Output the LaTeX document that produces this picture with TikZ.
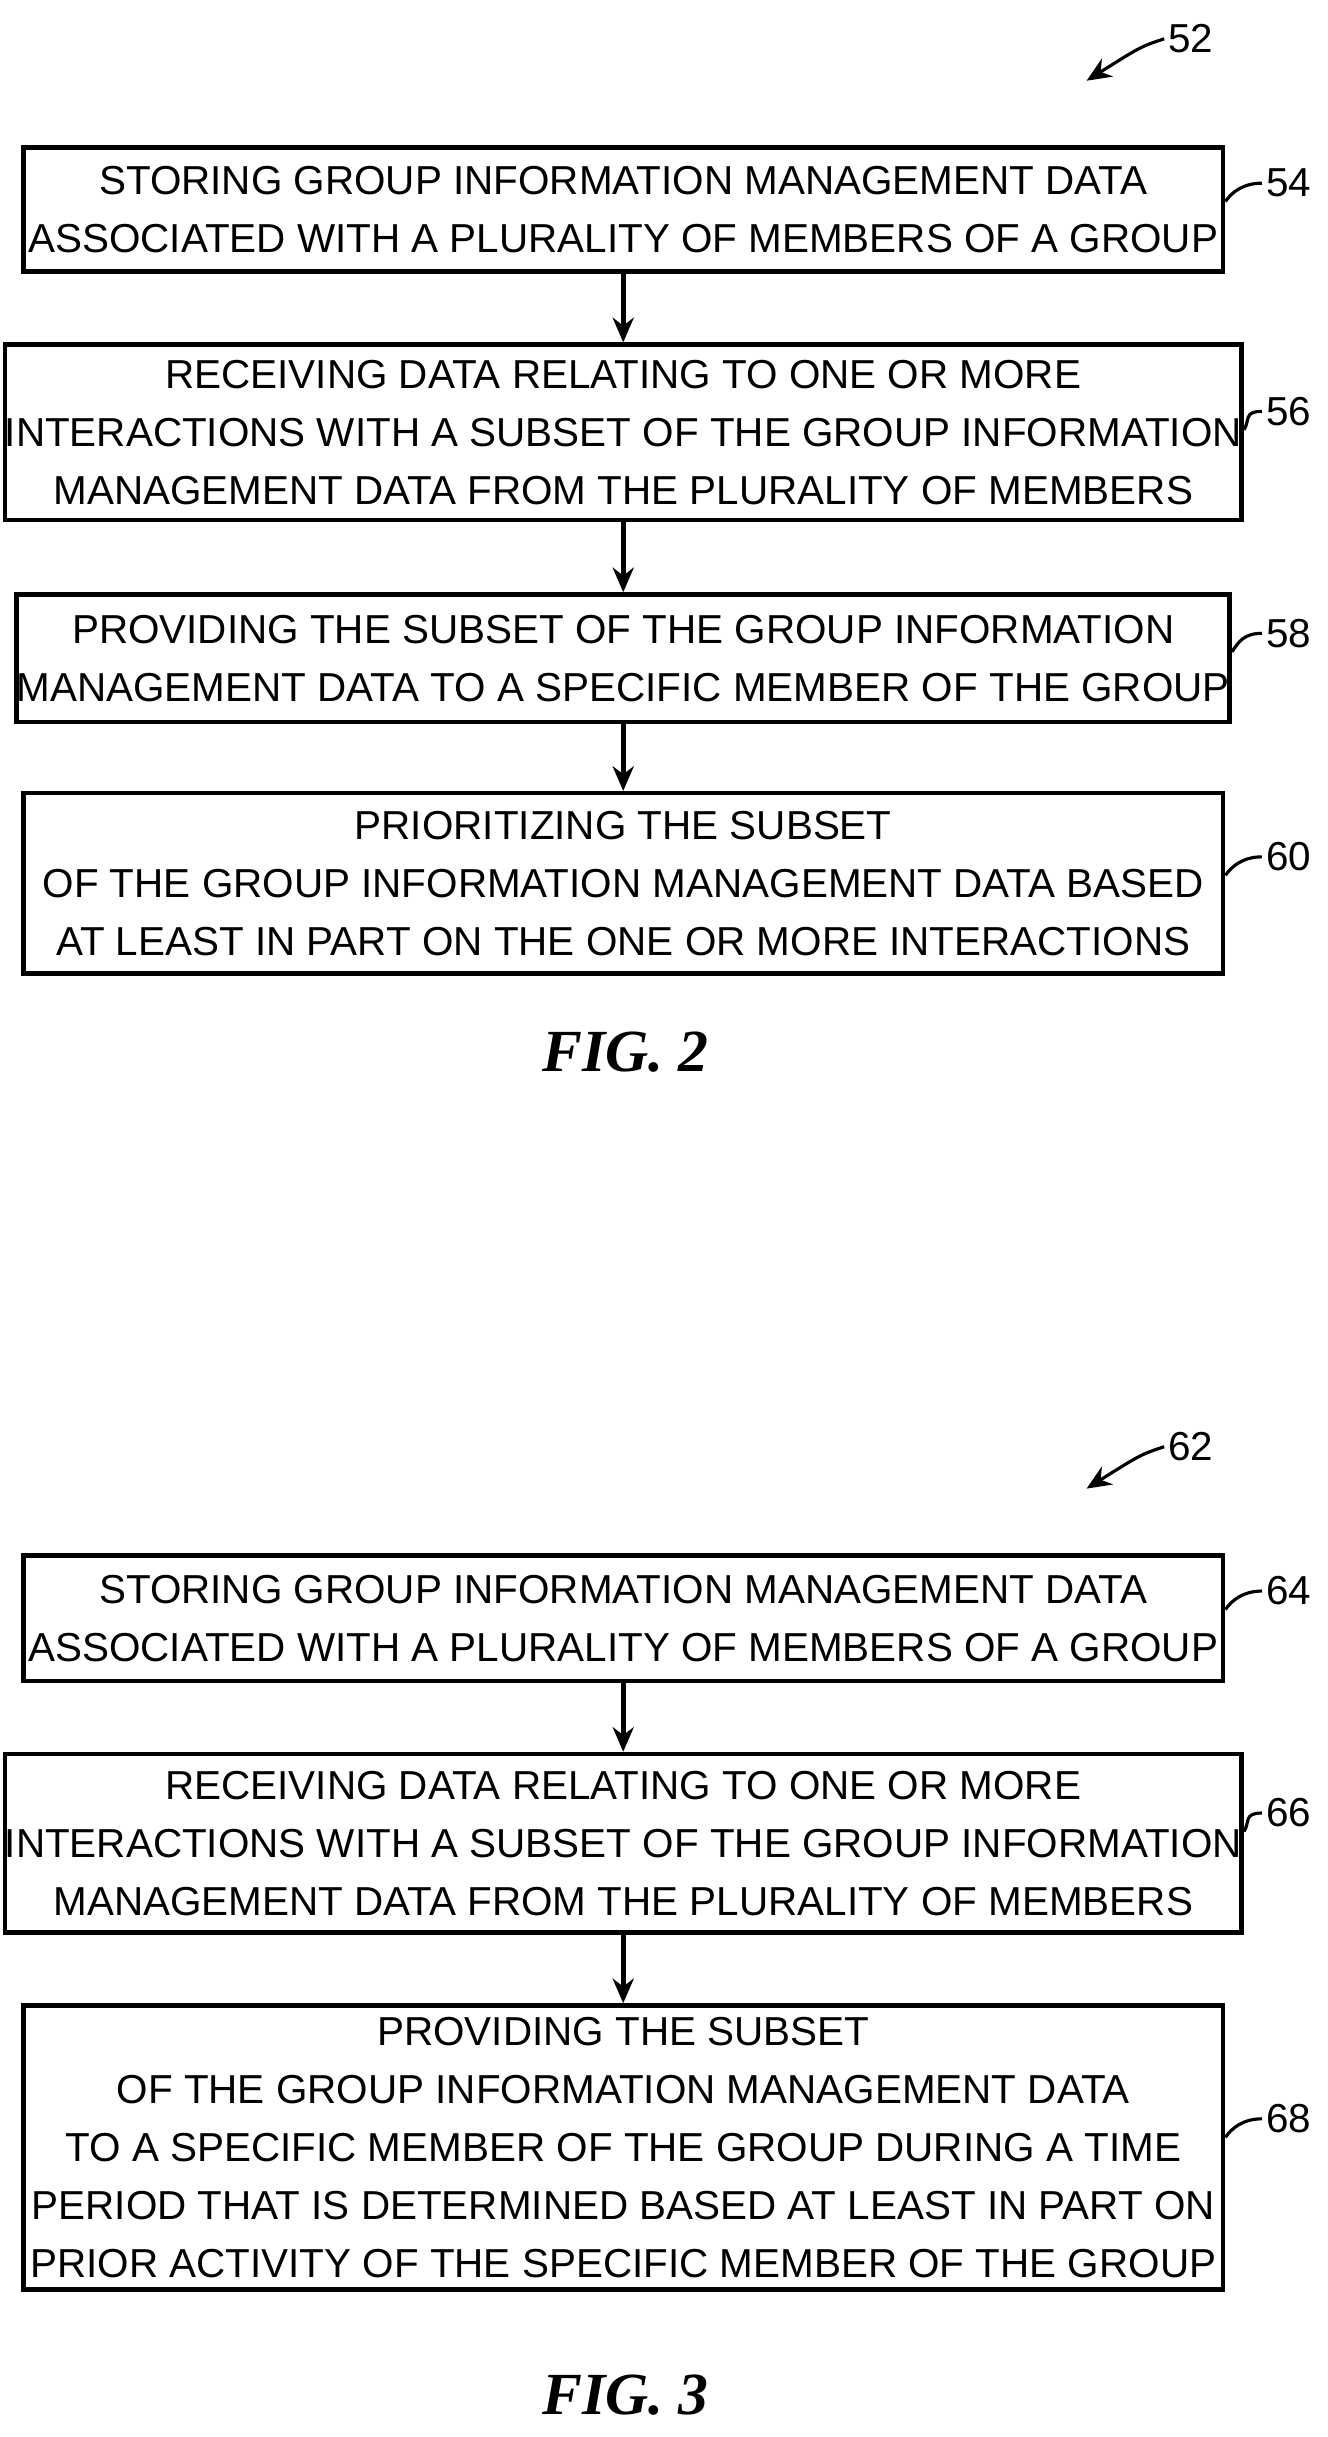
\documentclass[tikz,border=0pt]{standalone}
\usepackage{fontspec}
\setmainfont{Liberation Sans}
\newfontfamily\figfont{Liberation Serif}
\usetikzlibrary{arrows.meta,positioning}

\tikzset{
  procbox/.style={draw, line width=1.3pt, align=center, inner sep=0pt,
    minimum width=773*0.01552cm, font=\fontsize{11.5}{16.5}\selectfont},
  flow/.style={-{Stealth[length=7pt,width=6pt]}, line width=1.3pt},
  refnum/.style={font=\fontsize{11.5}{14}\selectfont, anchor=west, inner sep=1pt},
  lead/.style={line width=0.9pt},
  figlabel/.style={font=\figfont\itshape\bfseries\fontsize{17}{20}\selectfont}
}

\begin{document}
\begin{tikzpicture}[x=0.01552cm, y=-0.01552cm]
    \useasboundingbox (0,0) rectangle (855,1570);

    % FIG. 2
    \node[refnum] (n52) at (750,25) {52};
    \coordinate (a52) at (700,52);
    \draw[flow, line width=0.9pt] (n52.west) .. controls (735,30) .. (a52);

    \node[procbox, minimum height=80*0.01552cm] (s54) at (401.5,135) {STORING GROUP INFORMATION MANAGEMENT DATA\\ASSOCIATED WITH A PLURALITY OF MEMBERS OF A GROUP};
    \node[procbox, minimum height=113*0.01552cm] (s56) at (401.5,278.5) {RECEIVING DATA RELATING TO ONE OR MORE\\INTERACTIONS WITH A SUBSET OF THE GROUP INFORMATION\\MANAGEMENT DATA FROM THE PLURALITY OF MEMBERS};
    \node[procbox, minimum height=82*0.01552cm] (s58) at (401.5,424) {PROVIDING THE SUBSET OF THE GROUP INFORMATION\\MANAGEMENT DATA TO A SPECIFIC MEMBER OF THE GROUP};
    \node[procbox, minimum height=116*0.01552cm] (s60) at (401.5,569) {PRIORITIZING THE SUBSET\\OF THE GROUP INFORMATION MANAGEMENT DATA BASED\\AT LEAST IN PART ON THE ONE OR MORE INTERACTIONS};

    \draw[flow] (s54) -- (s56);
    \draw[flow] (s56) -- (s58);
    \draw[flow] (s58) -- (s60);

    \node[refnum] (n54) at (813,118) {54};
    \node[refnum] (n56) at (813,265) {56};
    \node[refnum] (n58) at (813,408) {58};
    \node[refnum] (n60) at (813,552) {60};
    \draw[lead] (n54.west) .. controls +(-12,0) and +(4,-6) .. (s54.east |- n54.south);
    \draw[lead] (n56.west) .. controls +(-12,0) and +(4,-6) .. (s56.east |- n56.south);
    \draw[lead] (n58.west) .. controls +(-12,0) and +(4,-6) .. (s58.east |- n58.south);
    \draw[lead] (n60.west) .. controls +(-12,0) and +(4,-6) .. (s60.east |- n60.south);

    \node[figlabel] (fig2) at (403,678) {FIG. 2};

    % FIG. 3
    \node[refnum] (n62) at (750,932) {62};
    \coordinate (a62) at (700,959);
    \draw[flow, line width=0.9pt] (n62.west) .. controls (735,937) .. (a62);

    \node[procbox, minimum height=81*0.01552cm] (s64) at (401.5,1042.5) {STORING GROUP INFORMATION MANAGEMENT DATA\\ASSOCIATED WITH A PLURALITY OF MEMBERS OF A GROUP};
    \node[procbox, minimum height=115*0.01552cm] (s66) at (401.5,1187.5) {RECEIVING DATA RELATING TO ONE OR MORE\\INTERACTIONS WITH A SUBSET OF THE GROUP INFORMATION\\MANAGEMENT DATA FROM THE PLURALITY OF MEMBERS};
    \node[procbox, minimum height=183*0.01552cm] (s68) at (401.5,1383.5) {PROVIDING THE SUBSET\\OF THE GROUP INFORMATION MANAGEMENT DATA\\TO A SPECIFIC MEMBER OF THE GROUP DURING A TIME\\PERIOD THAT IS DETERMINED BASED AT LEAST IN PART ON\\PRIOR ACTIVITY OF THE SPECIFIC MEMBER OF THE GROUP};

    \draw[flow] (s64) -- (s66);
    \draw[flow] (s66) -- (s68);

    \node[refnum] (n64) at (813,1025) {64};
    \node[refnum] (n66) at (813,1168) {66};
    \node[refnum] (n68) at (813,1365) {68};
    \draw[lead] (n64.west) .. controls +(-12,0) and +(4,-6) .. (s64.east |- n64.south);
    \draw[lead] (n66.west) .. controls +(-12,0) and +(4,-6) .. (s66.east |- n66.south);
    \draw[lead] (n68.west) .. controls +(-12,0) and +(4,-6) .. (s68.east |- n68.south);

    \node[figlabel] (fig3) at (403,1543) {FIG. 3};
\end{tikzpicture}
\end{document}
